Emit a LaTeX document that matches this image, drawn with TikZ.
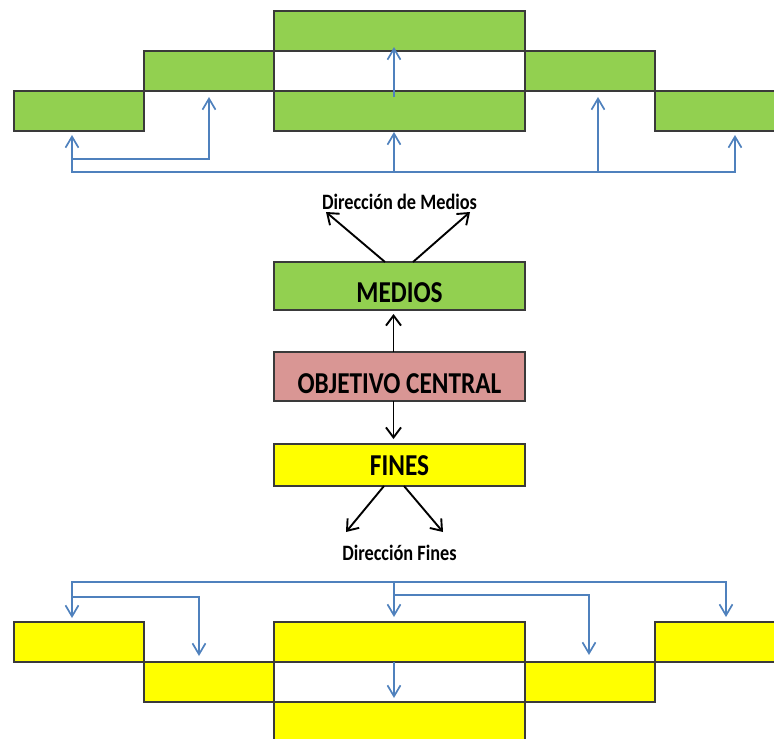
\documentclass[tikz,border=0pt]{standalone}
\usepackage{fontspec}
\usepackage{graphicx}
\setmainfont{Carlito}
\usetikzlibrary{arrows.meta,calc}

\definecolor{medgreen}{HTML}{92D050}
\definecolor{finyellow}{HTML}{FFFF00}
\definecolor{objpink}{HTML}{D99694}
\definecolor{flowblue}{HTML}{4F81BD}
\definecolor{edgegray}{HTML}{3A3A3A}

\tikzset{
  blk/.style={draw=edgegray, line width=1.1pt, inner sep=0pt, outer sep=0pt,
              minimum height=40pt},
  narrowblk/.style={blk, minimum width=130pt},
  wideblk/.style={blk, minimum width=251pt},
  green/.style={fill=medgreen},
  yellow/.style={fill=finyellow},
  mainbox/.style={draw=edgegray, line width=1.1pt, inner sep=0pt, outer sep=0pt,
                  minimum width=251pt,
                  font=\fontsize{25.3}{30}\selectfont\bfseries},
  dirlabel/.style={inner sep=0pt, anchor=base,
                   font=\fontsize{18.3}{22}\selectfont\bfseries},
  bline/.style={draw=flowblue, line width=1.7pt, line join=miter},
  barrow/.style={bline, -{Straight Barb[length=11pt,width=13pt,line width=1.7pt]}},
  bboth/.style={bline, {Straight Barb[length=11pt,width=13pt,line width=1.7pt]}-{Straight Barb[length=11pt,width=13pt,line width=1.7pt]}},
  karrow/.style={draw=black, line width=1.9pt,
                 -{Straight Barb[length=10pt,width=15pt,line width=1.9pt]}},
}

\newcommand{\tall}[1]{\scalebox{1}[1.2]{#1}}

\begin{document}
\begin{tikzpicture}[x=1pt,y=-1pt]
\useasboundingbox (0,0) rectangle (774,739);

% ---- staircase of means (top)
\node[narrowblk, green] (g1) at (79,111) {};
\node[narrowblk, green] (g2) at (209,71) {};
\node[wideblk, green] (gc1) at (399.5,111) {};
\node[wideblk, green] (gc2) at (399.5,31) {};
\node[narrowblk, green] (r2) at (590,71) {};
\node[blk, green, minimum width=120pt] (r1) at (715,111) {};

% ---- central chain
\node[mainbox, fill=medgreen, minimum height=48pt, text height=32pt, text depth=0pt]
  (medios) at (399.5,286) {\tall{MEDIOS}};
\node[mainbox, fill=objpink, minimum height=49pt, text height=33pt, text depth=0pt]
  (obj) at (399.5,376.5) {\tall{OBJETIVO CENTRAL}};
\node[mainbox, fill=finyellow, minimum height=42pt, text height=20pt, text depth=0pt]
  (fines) at (399.5,465) {\tall{FINES}};

\node[dirlabel] (dm) at (399.5,209) {\tall{Dirección de Medios}};
\node[dirlabel] (df) at (399.5,560) {\tall{Dirección Fines}};

% ---- staircase of ends (bottom)
\node[narrowblk, yellow] (y1) at (79,642) {};
\node[narrowblk, yellow] (y2) at (209,682) {};
\node[wideblk, yellow] (yc1) at (399.5,642) {};
\node[wideblk, yellow] (yc2) at (399.5,722) {};
\node[narrowblk, yellow] (yr2) at (590,682) {};
\node[blk, yellow, minimum width=120pt] (yr1) at (715,642) {};

% ---- black direction arrows
\coordinate (dmL) at (326,212);
\coordinate (dmR) at (470,212);
\coordinate (dfL) at (346,532);
\coordinate (dfR) at (443,532);
\draw[karrow] ([xshift=-14.5pt]medios.north) -- (dmL);
\draw[karrow] ([xshift=13.5pt]medios.north) -- (dmR);
\draw[karrow] ([xshift=-6pt]obj.north) -- ([xshift=-6pt,yshift=-4pt]medios.south);
\draw[karrow] ([xshift=-6pt]obj.south) -- ([xshift=-6pt,yshift=5pt]fines.north);
\draw[karrow] ([xshift=-15.5pt]fines.south) -- (dfL);
\draw[karrow] ([xshift=4.5pt]fines.south) -- (dfR);

% ---- blue flow, top staircase
\coordinate (mL) at (72,172);
\coordinate (mR) at (735,172);
\coordinate (mC) at (394,172);
\coordinate (mD) at (598,172);
\coordinate (mI) at (72,159);
\coordinate (mI2) at (209,159);
\draw[bboth] ($(mL |- g1.south)+(0,4)$) -- (mL) -- (mR) -- ($(mR |- r1.south)+(0,4)$);
\draw[barrow] (mI) -- (mI2) -- ($(mI2 |- g2.south)+(0,6)$);
\draw[barrow] (mC) -- ($(mC |- gc1.south)+(0,1)$);
\draw[barrow] ($(mC |- gc1.north)+(0,6)$) -- ($(mC |- gc2.south)+(0,-4)$);
\draw[barrow] (mD) -- ($(mD |- r2.south)+(0,6)$);

% ---- blue flow, bottom staircase
\coordinate (fL) at (72,582);
\coordinate (fR) at (726,582);
\coordinate (fC) at (394,582);
\coordinate (fI) at (72,597);
\coordinate (fI2) at (199,597);
\coordinate (fC2) at (394,595);
\coordinate (fD) at (589,595);
\draw[bboth] ($(fL |- y1.north)+(0,-4)$) -- (fL) -- (fR) -- ($(fR |- yr1.north)+(0,-5)$);
\draw[barrow] (fI) -- (fI2) -- ($(fI2 |- y2.north)+(0,-6)$);
\draw[barrow] (fC) -- ($(fC |- yc1.north)+(0,-5)$);
\draw[barrow] (fC2) -- (fD) -- ($(fD |- yr2.north)+(0,-7)$);
\draw[barrow] (fC |- yc1.south) -- ($(fC |- yc2.north)+(0,-4)$);
\end{tikzpicture}
\end{document}
